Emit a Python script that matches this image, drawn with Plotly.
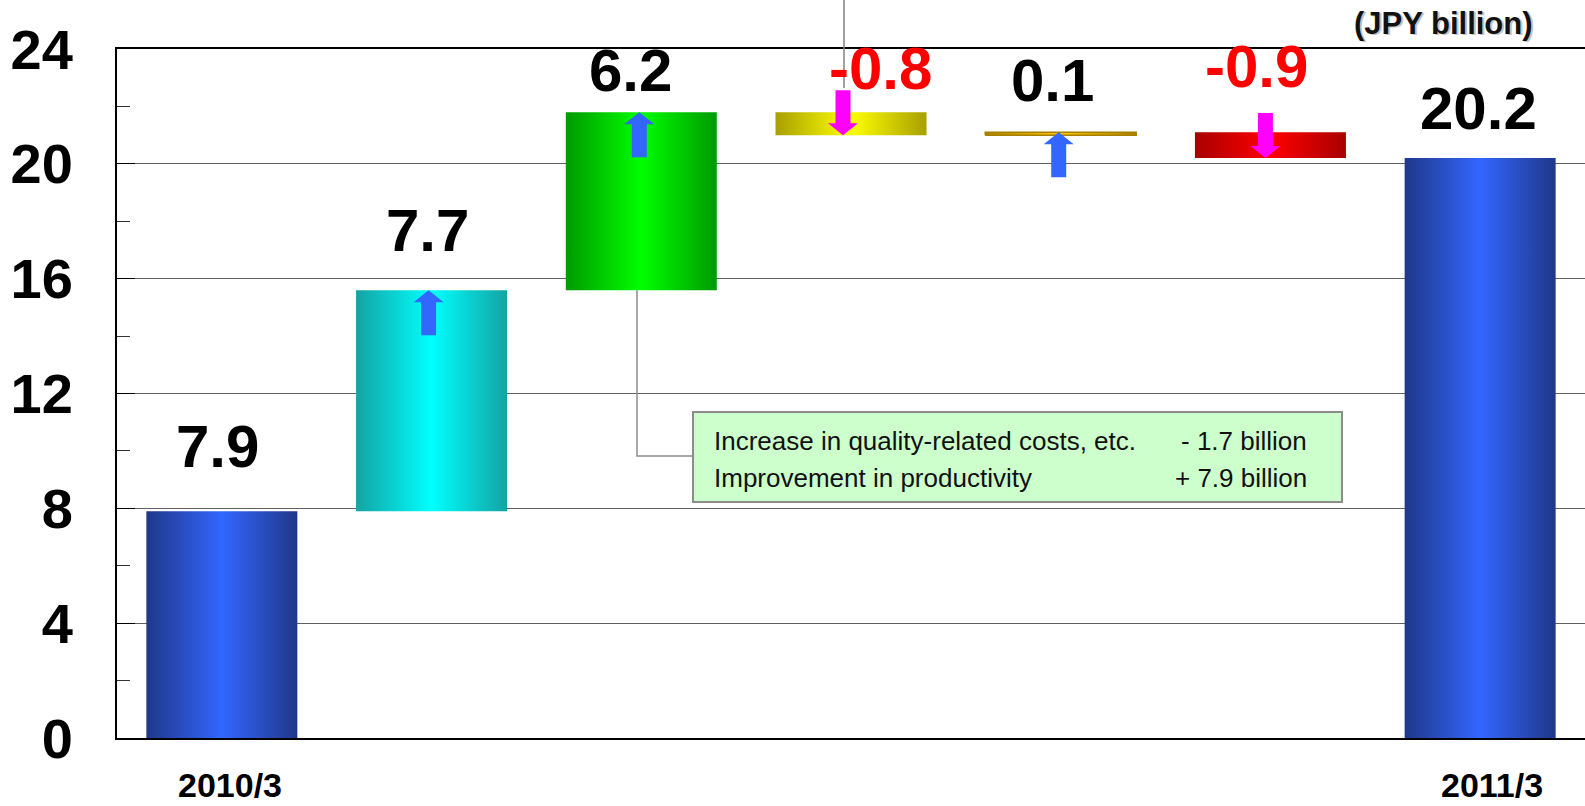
import plotly.graph_objects as go

# ---------------- data ----------------
categories = ["2010/3", "", "", "", "", "", "2011/3"]
start_value = 7.9
changes = [7.7, 6.2, -0.8, 0.1, -0.9]
end_value = 20.2
value_labels = ["7.9", "7.7", "6.2", "-0.8", "0.1", "-0.9", "20.2"]
y_ticks = [0, 4, 8, 12, 16, 20, 24]
note_lines = ["Increase in quality-related costs, etc.", "Improvement in productivity"]
note_values = ["- 1.7 billion", "+ 7.9 billion"]
unit_label = "(JPY billion)"

# ---------------- layout constants ----------------
W, H = 1585, 806
ML, MR, MT, MB = 117, 0, 49, 68
PW, PH = W - ML - MR, H - MT - MB
NCAT = len(categories)
YMAX = 24
PX_X = PW / NCAT          # px per x unit
PX_Y = PH / YMAX          # px per y unit


def px2x(px):
    return (px - ML) / PX_X - 0.5


def px2y(py):
    return (H - MB - py) / PX_Y


FONT = "Liberation Sans, Arial, sans-serif"
BAR_W = 0.72

bar_scales = [
    ["#1f3889", "#3366ff", "#1f3889"],
    ["#14a3a3", "#00ffff", "#14a3a3"],
    ["#009a00", "#00ff00", "#009a00"],
    ["#a8a000", "#ffff00", "#a8a000"],
    ["#a88000", "#ffc800", "#a88000"],
    ["#a80000", "#ff0000", "#a80000"],
    ["#1f3889", "#3366ff", "#1f3889"],
]
label_colors = ["black" if not l.startswith("-") else "#ff0000" for l in value_labels]
label_yshift = [65, 60, 42, 44, 52, 66, 50]
label_xshift = [-4, -4, -11, 29, -8, -14, -2]
arrow_xshift = [0, -3, -2, -8, -2, -5, 0]
cat_label_xshift = [8, 0, 0, 0, 0, 0, 12]

# waterfall bases / tops
bases, tops = [0.0], [start_value]
cum = start_value
for d in changes:
    bases.append(cum)
    cum = round(cum + d, 4)
    tops.append(cum)
bases.append(0.0)
tops.append(end_value)

fig = go.Figure()

for i in range(NCAT):
    lo, hi = min(bases[i], tops[i]), max(bases[i], tops[i])
    x0, x1 = i - BAR_W / 2, i + BAR_W / 2
    sc = bar_scales[i]
    fig.add_trace(go.Scatter(
        x=[x0, x0, x1, x1, x0], y=[lo, hi, hi, lo, lo],
        mode="lines", fill="toself",
        line=dict(width=1.5 if i == 4 else 0, color=sc[0]),
        fillgradient=dict(type="horizontal",
                          colorscale=[[0, sc[0]], [0.5, sc[1]], [1, sc[2]]]),
        hoverinfo="skip", showlegend=False,
    ))

# block arrows for the change bars (tip at the new cumulative value)
for i in range(1, NCAT - 1):
    d = changes[i - 1]
    sgn = 1 if d > 0 else -1
    color = "#3366ff" if d > 0 else "#ff00ff"
    tipx = i + arrow_xshift[i] / PX_X
    tipy = tops[i]
    pts = [(0, 0), (15, -12), (7.5, -12), (7.5, -45), (-7.5, -45), (-7.5, -12), (-15, -12), (0, 0)]
    xs = [tipx + p[0] / PX_X for p in pts]
    ys = [tipy + sgn * p[1] / PX_Y for p in pts]
    fig.add_trace(go.Scatter(x=xs, y=ys, mode="lines", fill="toself",
                             fillcolor=color, line=dict(width=0, color=color),
                             hoverinfo="skip", showlegend=False))

annotations = []
for i in range(NCAT):
    annotations.append(dict(
        x=i, y=max(bases[i], tops[i]), xref="x", yref="y",
        text=value_labels[i], showarrow=False, yanchor="middle", xanchor="center",
        yshift=label_yshift[i], xshift=label_xshift[i],
        font=dict(family=FONT, size=60, color=label_colors[i], weight="bold"),
    ))

# category labels under the axis
for i, c in enumerate(categories):
    if c:
        annotations.append(dict(x=i, y=0, xref="x", yref="y", text=c, showarrow=False,
                                xanchor="center", yanchor="middle", yshift=-47,
                                xshift=cat_label_xshift[i],
                                font=dict(family=FONT, size=34, color="black", weight="bold")))

# note box text
for k in range(2):
    ly = px2y(441 + 37 * k)
    annotations.append(dict(x=px2x(712), y=ly, xref="x", yref="y", text=note_lines[k],
                            showarrow=False, xanchor="left", yanchor="middle",
                            font=dict(family=FONT, size=26, color="#111")))
    annotations.append(dict(x=px2x(1309), y=ly, xref="x", yref="y", text=note_values[k],
                            showarrow=False, xanchor="right", yanchor="middle",
                            font=dict(family=FONT, size=26, color="#111")))

# unit label (with faint shadow)
for dx, dy, col in [(1.5, -1.5, "#c4c4c4"), (0, 0, "#111")]:
    annotations.append(dict(x=1, y=1, xref="paper", yref="paper", text=unit_label,
                            showarrow=False, xanchor="right", yanchor="bottom",
                            xshift=-50 + dx, yshift=6 + dy,
                            font=dict(family=FONT, size=31, color=col, weight="bold")))

shapes = [
    # note box
    dict(type="rect", xref="x", yref="y", x0=px2x(693), x1=px2x(1342),
         y0=px2y(502), y1=px2y(412), fillcolor="#ccffcc",
         line=dict(color="#8c8c8c", width=2), layer="above"),
    # connector from green bar to box
    dict(type="path", xref="x", yref="y",
         path=f"M {px2x(637)},{tops[1]} L {px2x(637)},{px2y(456)} L {px2x(693)},{px2y(456)}",
         line=dict(color="#8c8c8c", width=1.5), layer="above"),
    # connector line from top of page down to the -0.8 arrow
    dict(type="line", xref="x", yref="paper", x0=px2x(844), x1=px2x(844),
         y0=(H - MB - 88) / PH, y1=(H - MB) / PH + 0.01,
         line=dict(color="#808080", width=1.5), layer="above"),
]

fig.update_layout(
    width=W, height=H,
    margin=dict(l=ML, r=MR, t=MT, b=MB, pad=0),
    paper_bgcolor="white", plot_bgcolor="white",
    showlegend=False,
    annotations=annotations, shapes=shapes,
    xaxis=dict(range=[-0.5, NCAT - 0.5], showticklabels=False,
               showgrid=False, zeroline=False, showline=True, mirror=True,
               linecolor="black", linewidth=2, ticks="", fixedrange=True),
    yaxis=dict(range=[0, YMAX], tickvals=y_ticks, ticktext=[str(v) for v in y_ticks],
               showgrid=True, gridcolor="#606060", gridwidth=1,
               zeroline=False, showline=True, linecolor="black", linewidth=2,
               ticks="inside", ticklen=18, tickcolor="black", tickwidth=1,
               minor=dict(dtick=2, ticks="inside", ticklen=13, tickcolor="#333", showgrid=False),
               tickfont=dict(family=FONT, size=56, color="black", weight="bold"),
               ticklabelstandoff=31, fixedrange=True),
)

fig.write_html("out.html")
